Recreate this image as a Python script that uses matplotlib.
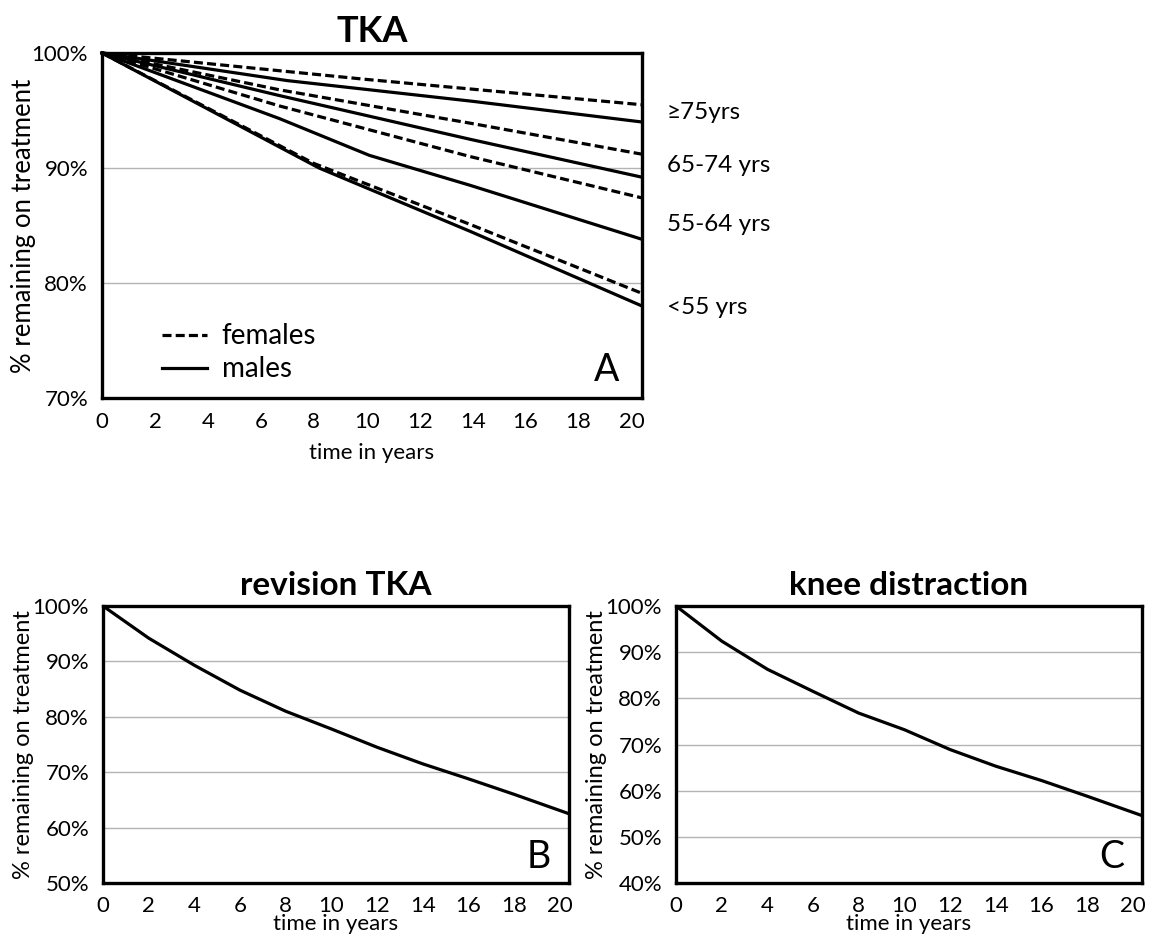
import matplotlib
matplotlib.use("Agg")
import matplotlib.pyplot as plt
from matplotlib.lines import Line2D
import matplotlib.transforms as mtransforms

plt.rcParams['font.family'] = ['Lato', 'DejaVu Sans']
plt.rcParams['lines.scale_dashes'] = False

# ---------------- data ----------------
x_ticks = [0, 2, 4, 6, 8, 10, 12, 14, 16, 18, 20]
x_ticklabels = [str(v) for v in x_ticks]

# Panel A: TKA, per age group and sex (years, % remaining)
t_75_f = [0, 10, 20.4]
v_75_f = [100, 97.7, 95.5]
t_75_m = [0, 7, 14, 20.4]
v_75_m = [100, 97.6, 95.8, 94.0]
t_65_f = [0, 6.7, 13.9, 20.4]
v_65_f = [100, 96.8, 93.9, 91.2]
t_65_m = [0, 6.7, 13.9, 20.4]
v_65_m = [100, 96.3, 92.5, 89.2]
t_55_f = [0, 6.7, 13.9, 20.4]
v_55_f = [100, 95.4, 91.0, 87.4]
t_55_m = [0, 6.7, 10.1, 13.9, 20.4]
v_55_m = [100, 94.3, 91.1, 88.5, 83.8]
t_u55_f = [0, 8.0, 13.9, 20.4]
v_u55_f = [100, 90.4, 85.1, 79.1]
t_u55_m = [0, 8.2, 13.9, 20.4]
v_u55_m = [100, 90.0, 84.5, 78.0]

age_labels = ["\u226575yrs", "65-74 yrs", "55-64 yrs", "<55 yrs"]
age_label_y = [94.8, 90.2, 85.1, 77.9]

# Panel B: revision TKA
t_rev = [0, 2, 4, 6, 8, 10, 12, 14, 16, 18, 20.4]
v_rev = [100, 94.2, 89.3, 84.8, 81.0, 77.8, 74.5, 71.5, 68.8, 66.0, 62.5]

# Panel C: knee distraction
t_kd = [0, 2, 4, 6, 8, 10, 12, 14, 16, 18, 20.4]
v_kd = [100, 92.4, 86.3, 81.5, 76.8, 73.2, 68.9, 65.3, 62.2, 58.8, 54.6]

# ---------------- figure ----------------
W, H = 1157, 943
fig = plt.figure(figsize=(W / 100, H / 100), dpi=100)

def ax_px(l, t, r, b):
    return fig.add_axes([l / W, 1 - b / H, (r - l) / W, (b - t) / H])

axA = ax_px(102, 53, 642, 398)
axB = ax_px(103, 606, 569, 883)
axC = ax_px(676, 606, 1142, 883)

LW = 2.3
DASH = (6.5, 3.0)
TICK_FS = 16
XLAB_FS = 16
TITLE_FS = 24

def style(ax, ylo, yhi, ystep, title, letter, title_fs, ylab_fs):
    ax.set_xlim(0, 20.4)
    ax.set_ylim(ylo, yhi)
    ax.set_xticks(x_ticks)
    ax.set_xticklabels(x_ticklabels)
    yt = list(range(ylo, yhi + 1, ystep))
    ax.set_yticks(yt)
    ax.set_yticklabels([f"{v}%" for v in yt])
    ax.tick_params(axis='both', length=0, labelsize=TICK_FS)
    ax.tick_params(axis='x', pad=10)
    ax.tick_params(axis='y', pad=10)
    for v in yt[1:-1]:
        ax.axhline(v, color='#b3b3b3', lw=1.0, zorder=0)
    for s in ax.spines.values():
        s.set_linewidth(2.4)
        s.set_color('black')
    ax.set_xlabel("time in years", fontsize=XLAB_FS, labelpad=8)
    ax.set_ylabel("% remaining on treatment", fontsize=ylab_fs, labelpad=-3)
    ax.set_title(title, fontsize=title_fs, fontweight='bold', pad=8)
    ax.text(0.935, 0.03, letter, transform=ax.transAxes, fontsize=27,
            ha='center', va='bottom')

style(axA, 70, 100, 10, "TKA", "A", 26, 18.5)
style(axB, 50, 100, 10, "revision TKA", "B", TITLE_FS, 17)
style(axC, 40, 100, 10, "knee distraction", "C", TITLE_FS, 17)
for ax in (axB, axC):
    ax.xaxis.labelpad = -1
    ax.yaxis.labelpad = -1
    ax.tick_params(axis='x', pad=9)

# Panel A lines
for t, v in [(t_75_f, v_75_f), (t_65_f, v_65_f), (t_55_f, v_55_f), (t_u55_f, v_u55_f)]:
    axA.plot(t, v, color='black', lw=LW, linestyle=(0, DASH), clip_on=False,
             solid_capstyle='butt', dash_capstyle='butt')
for t, v in [(t_75_m, v_75_m), (t_65_m, v_65_m), (t_55_m, v_55_m), (t_u55_m, v_u55_m)]:
    axA.plot(t, v, color='black', lw=LW, linestyle='-', clip_on=False)

trans = mtransforms.blended_transform_factory(axA.transAxes, axA.transData)
for lab, y in zip(age_labels, age_label_y):
    axA.text(1.046, y, lab, transform=trans, fontsize=17.5, ha='left', va='center')

handles = [Line2D([], [], color='black', lw=LW, linestyle=(0, DASH)),
           Line2D([], [], color='black', lw=LW, linestyle='-')]
axA.legend(handles, ["females", "males"], loc='lower left',
           bbox_to_anchor=(0.065, -0.027), frameon=False, fontsize=20,
           handlelength=1.6, handletextpad=0.55, labelspacing=0.25)

axB.plot(t_rev, v_rev, color='black', lw=LW)
axC.plot(t_kd, v_kd, color='black', lw=LW)

fig.savefig("out.png", dpi=100)
